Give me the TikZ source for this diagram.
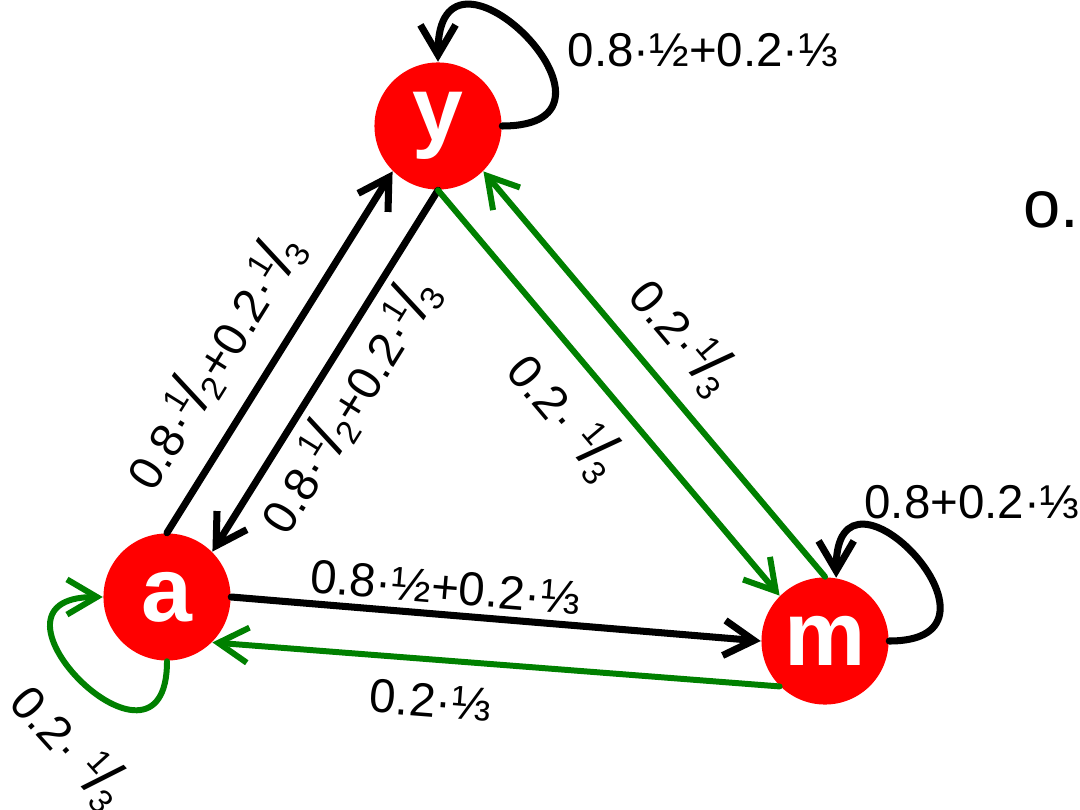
\documentclass[tikz,border=0pt]{standalone}
\usepackage{fontspec}
\setmainfont{Liberation Sans}
\usetikzlibrary{arrows.meta}
\definecolor{egreen}{RGB}{0,128,0}
\definecolor{nred}{RGB}{255,0,0}
\newcommand\myfr[2]{\raisebox{0.75ex}{\fontsize{9.5}{9.5}\selectfont #1}\kern-0.06em{\fontsize{18}{18}\selectfont/}\kern-0.06em\raisebox{-0.3ex}{\fontsize{9.5}{9.5}\selectfont #2}}
\begin{document}
\begin{tikzpicture}[x=0.01cm,y=-0.01cm,
  state/.style={circle,fill=nred,minimum size=1.27cm,inner sep=0pt,text=white,font=\fontsize{26}{26}\selectfont\bfseries},
  blk/.style={draw=black,line width=2pt,line cap=round,-{Straight Barb[length=8.5pt,width=10pt]}},
  grn/.style={blk,draw=egreen,line width=1.7pt},
  lbl/.style={font=\fontsize{13.5}{14}\selectfont,inner sep=2pt,text=black}]
\useasboundingbox (0,0) rectangle (1080,810);
\node[state] (y) at (438,126) {y};
\node[state] (a) at (167,597) {a};
\node[state] (m) at (825,641) {m};

\draw[blk] (a.north) -- node[lbl,sloped,above,pos=0.4,inner sep=6pt]{0.8·\myfr12+0.2·\myfr13} (y.225);
\draw[blk] (y.south) -- node[lbl,sloped,below,pos=0.54]{0.8·\myfr12+0.2·\myfr13} (a.45);
\draw[grn] (y.south) -- node[lbl,sloped,below,pos=0.48,inner sep=5pt]{0.2· \myfr13} (m.135);
\draw[grn] (m.north) -- node[lbl,sloped,above,pos=0.52,inner sep=5pt]{0.2·\myfr13} (y.-45);
\draw[blk] (a.east) -- node[lbl,sloped,above,pos=0.4]{0.8·½+0.2·⅓} (m.west);
\draw[grn] (m.225) -- node[lbl,sloped,below,pos=0.61,inner sep=6pt]{0.2·⅓} (a.-45);

\draw[blk] (y.east) .. controls +(150,0) and +(0,-150) .. (y.north);
\draw[blk] (m.east) .. controls +(140,0) and +(0,-140) .. (m.80);
\draw[grn] (a.south) .. controls +(0,140) and +(-140,0) .. (a.west);

\node[lbl] (ly) at (703,50) {0.8·½+0.2·⅓};
\node[lbl] (lm) at (972,502) {0.8+0.2·⅓};
\node[lbl,rotate=-48] (la) at (70,745) {0.2· \myfr13};
\node[font=\fontsize{19}{19}\selectfont,anchor=base west,inner sep=0pt] (o) at (1023,228) {o.};
\end{tikzpicture}
\end{document}
